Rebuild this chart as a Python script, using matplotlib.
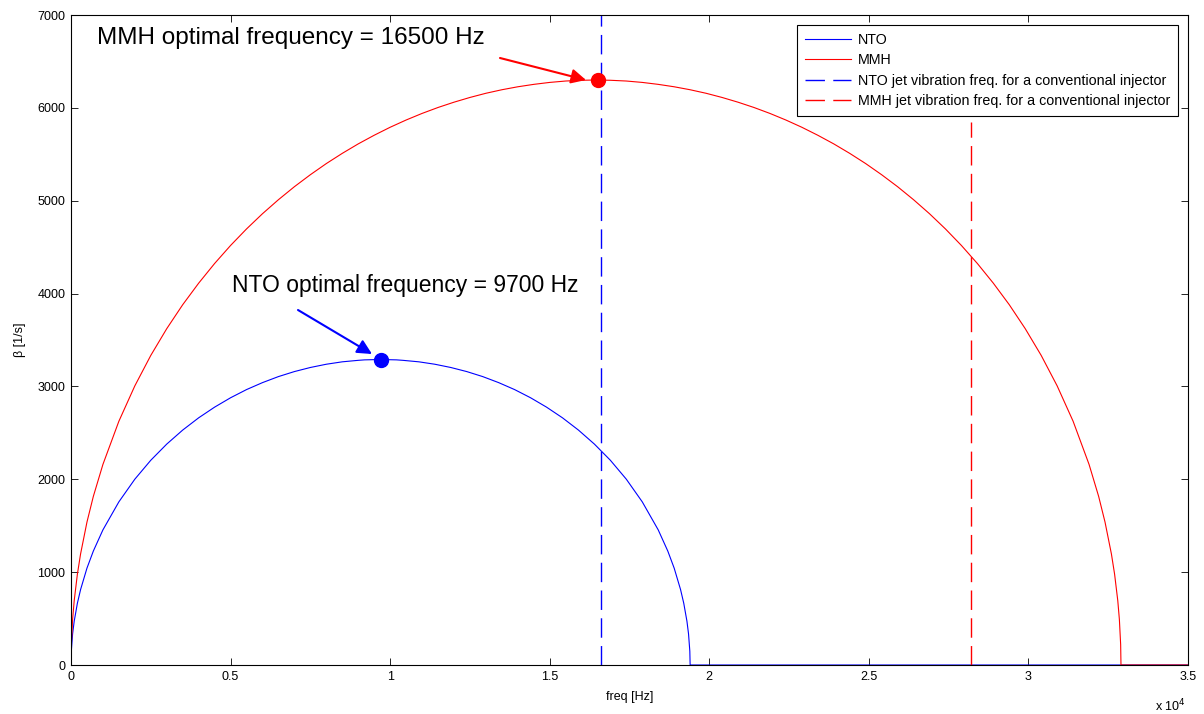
import matplotlib
matplotlib.use("Agg")
import matplotlib.pyplot as plt

plt.rcParams['font.family'] = ['Liberation Sans', 'DejaVu Sans']

# --- data ---
nto_freq = [0, 10, 50, 100, 200, 300, 500, 700, 1000, 1500,
            2000, 2500, 3000, 3500, 4000, 4500, 5000, 5500, 6000, 6500, 7000, 7500, 8000, 8500, 9000,
            9200, 9700,
            10200, 10400, 10900, 11400, 11900, 12400, 12900, 13400, 13900, 14400, 14900, 15400,
            15900, 16400, 16900, 17400, 17900, 18400,
            18700, 18900, 19100, 19200, 19300, 19350, 19390, 19400, 35000]
nto_beta = [0, 149, 334, 471, 665, 812, 1043, 1227, 1455, 1757,
            2001, 2205, 2379, 2530, 2662, 2777, 2878, 2966, 3041, 3106, 3160, 3204, 3239, 3265, 3281,
            3286, 3290,
            3286, 3281, 3265, 3239, 3204, 3160, 3106, 3041, 2966, 2878, 2777, 2662,
            2530, 2379, 2205, 2001, 1757, 1455,
            1227, 1043, 812, 665, 471, 334, 149, 0, 0]

mmh_freq = [0, 10, 50, 100, 200, 300, 500, 700, 1000,
            1500, 2000, 2500, 3000, 3500, 4000, 4500, 5000, 5500, 6000,
            6500, 7000, 7500, 8000, 8500, 9000, 9500, 10000, 10500, 11000,
            11500, 12000, 12500, 13000, 13500, 14000, 14500, 15000, 15500, 16000,
            16450,
            16900, 17400, 17900, 18400, 18900, 19400, 19900, 20400, 20900, 21400,
            21900, 22400, 22900, 23400, 23900, 24400, 24900, 25400, 25900, 26400,
            26900, 27400, 27900, 28400, 28900, 29400, 29900, 30400, 30900, 31400,
            31900, 32200, 32400, 32600, 32700, 32800, 32850, 32890, 32900, 35000]
mmh_beta = [0, 219, 490, 692, 978, 1196, 1539, 1816, 2160,
            2625, 3006, 3334, 3622, 3880, 4112, 4324, 4518, 4696, 4860,
            5011, 5151, 5280, 5400, 5510, 5612, 5705, 5791, 5869, 5940,
            6004, 6061, 6112, 6157, 6195, 6227, 6253, 6274, 6289, 6297,
            6300,
            6297, 6289, 6274, 6253, 6227, 6195, 6157, 6112, 6061, 6004,
            5940, 5869, 5791, 5705, 5612, 5510, 5400, 5280, 5151, 5011,
            4860, 4696, 4518, 4324, 4112, 3880, 3622, 3334, 3006, 2625,
            2160, 1816, 1539, 1196, 978, 692, 490, 219, 0, 0]

nto_jet_freq = 16600
nto_jet_top = 7000
mmh_jet_freq = 28200
mmh_jet_top = 5850

nto_opt = (9700, 3290)
mmh_opt = (16500, 6300)

xticks = [0, 5000, 10000, 15000, 20000, 25000, 30000, 35000]
xticklabels = ['0', '0.5', '1', '1.5', '2', '2.5', '3', '3.5']
yticks = [0, 1000, 2000, 3000, 4000, 5000, 6000, 7000]

legend_labels = ['NTO', 'MMH',
                 'NTO jet vibration freq. for a conventional injector',
                 'MMH jet vibration freq. for a conventional injector']

fig = plt.figure(figsize=(12.04, 7.14), dpi=100)
ax = fig.add_axes([71/1204, 49/714, 1117/1204, 650/714])

ax.plot(nto_freq, nto_beta, color='#0000ff', lw=0.8, label=legend_labels[0])
ax.plot(mmh_freq, mmh_beta, color='#ff0000', lw=0.8, label=legend_labels[1])
ax.plot([nto_jet_freq, nto_jet_freq], [0, nto_jet_top], color='#0000ff', lw=1.0,
        dashes=(14, 6), label=legend_labels[2])
ax.plot([mmh_jet_freq, mmh_jet_freq], [0, mmh_jet_top], color='#ff0000', lw=1.0,
        dashes=(14, 6), label=legend_labels[3])

ax.plot([mmh_opt[0]], [mmh_opt[1]], 'o', color='#ff0000', ms=10, zorder=5)
ax.plot([nto_opt[0]], [nto_opt[1]], 'o', color='#0000ff', ms=10, zorder=5)

ax.text(815, 6752, 'MMH optimal frequency = 16500 Hz', fontsize=17.5, va='center', ha='left')
ax.annotate('', xy=(16137, 6300), xytext=(13442, 6537),
            arrowprops=dict(arrowstyle='-|>', color='#ff0000', lw=1.5,
                            mutation_scale=22, shrinkA=0, shrinkB=0))

ax.text(5045, 4092, 'NTO optimal frequency = 9700 Hz', fontsize=16.5, va='center', ha='left')
ax.annotate('', xy=(9432, 3349), xytext=(7113, 3823),
            arrowprops=dict(arrowstyle='-|>', color='#0000ff', lw=1.5,
                            mutation_scale=22, shrinkA=0, shrinkB=0))

ax.set_xlim(0, 35000)
ax.set_ylim(0, 7000)
ax.set_xticks(xticks)
ax.set_xticklabels(xticklabels)
ax.set_yticks(yticks)
ax.tick_params(direction='in', length=5, width=0.6, top=True, right=True,
               labelsize=9, colors='black', pad=4)
for s in ax.spines.values():
    s.set_linewidth(0.8)

ax.set_xlabel('freq [Hz]', fontsize=9, labelpad=6)
ax.set_ylabel('β [1/s]', fontsize=9, labelpad=8)

fig.text(1155/1204, 1 - 706/714, r'x 10$^{4}$', fontsize=9, ha='left', va='center')

leg = ax.legend(loc='upper right', fontsize=10.3, frameon=True, fancybox=False,
                edgecolor='black', framealpha=1, handlelength=3.2, handletextpad=0.5,
                borderaxespad=0.7, labelspacing=0.45, borderpad=0.55)
leg.get_frame().set_linewidth(0.8)

fig.savefig('out.png', dpi=100)
